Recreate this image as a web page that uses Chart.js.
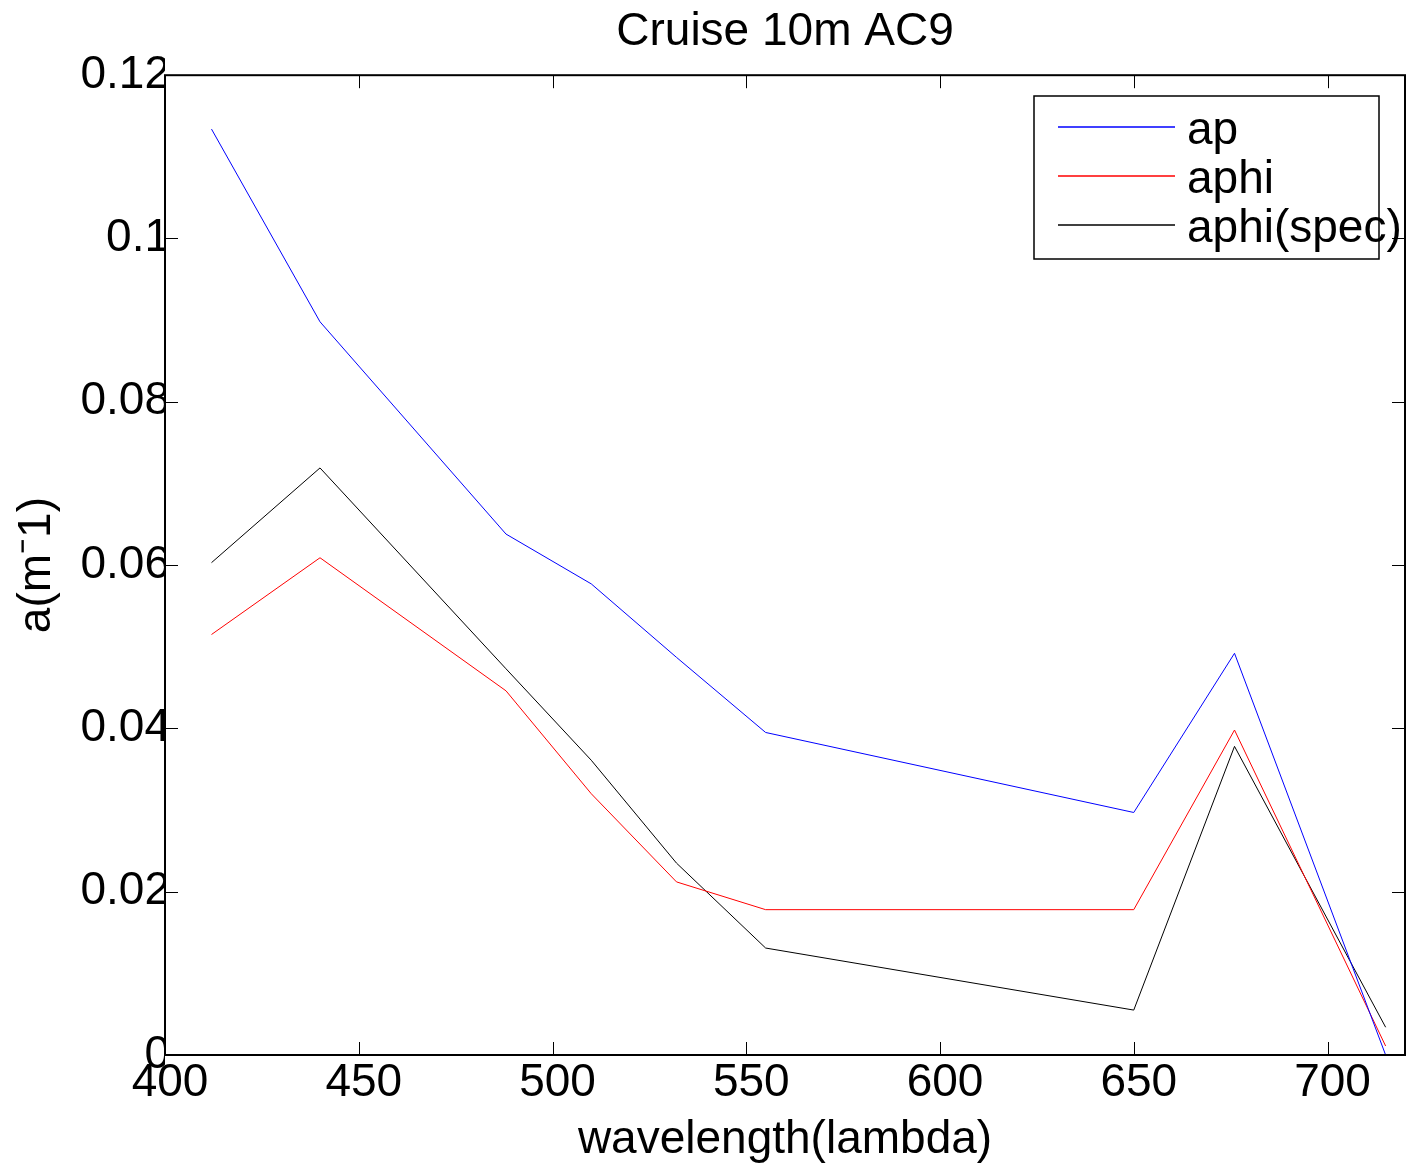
<!DOCTYPE html>
<html>
<head>
<meta charset="utf-8">
<script src="https://cdn.jsdelivr.net/npm/chart.js@4/dist/chart.umd.min.js"></script>
<style>
  body { margin: 0; background: #fff; }
  #wrap { width: 1408px; height: 1168px; }
</style>
</head>
<body>
<div id="wrap"><canvas id="ac9Chart" width="1408" height="1168"></canvas></div>
<script>
// AC9 wavelengths (nm)
const wavelengths = [412, 440, 488, 510, 532, 555, 650, 676, 715];
const ap = [0.1134, 0.0898, 0.0638, 0.0577, 0.0487, 0.0395, 0.0297, 0.0492, 0.0];
const aphi = [0.0515, 0.0609, 0.0446, 0.0320, 0.0212, 0.0178, 0.0178, 0.0398, 0.0011];
const aphiSpec = [0.0603, 0.0719, 0.0473, 0.0361, 0.0235, 0.0131, 0.0055, 0.0378, 0.0034];
const seriesNames = ["ap", "aphi", "aphi(spec)"];
const xTicks = [400, 450, 500, 550, 600, 650, 700];
const yTicks = [0, 0.02, 0.04, 0.06, 0.08, 0.1, 0.12];

const FONT = "'Liberation Sans', Arial, Helvetica, sans-serif";
const colors = ["#0000ff", "#ff0000", "#000000"];
const allSeries = [ap, aphi, aphiSpec];

function toPoints(vals) {
    return wavelengths.map((w, i) => ({ x: w, y: vals[i] }));
}

// box round the axes + inward tick marks, matlab style
const boxPlugin = {
    id: "matlabBox",
    afterDatasetsDraw(chart) {
        const ctx = chart.ctx;
        const a = chart.chartArea;
        const xs = chart.scales.x, ys = chart.scales.y;
        const tl = 13;
        ctx.save();
        ctx.strokeStyle = "#000";
        ctx.lineWidth = 1;
        ctx.beginPath();
        xTicks.forEach(v => {
            const px = Math.round(xs.getPixelForValue(v)) + 0.5;
            ctx.moveTo(px, a.bottom); ctx.lineTo(px, a.bottom - tl);
            ctx.moveTo(px, a.top); ctx.lineTo(px, a.top + tl);
        });
        yTicks.forEach(v => {
            const py = Math.round(ys.getPixelForValue(v)) + 0.5;
            ctx.moveTo(a.left, py); ctx.lineTo(a.left + tl, py);
            ctx.moveTo(a.right, py); ctx.lineTo(a.right - tl, py);
        });
        ctx.stroke();
        ctx.lineWidth = 2;
        ctx.strokeRect(a.left, a.top, a.right - a.left, a.bottom - a.top);
        ctx.restore();
    }
};

const legendPlugin = {
    id: "matlabLegend",
    afterDraw(chart) {
        const ctx = chart.ctx;
        const bx = 1034, by = 96, bw = 345, bh = 163;
        ctx.save();
        ctx.fillStyle = "#fff";
        ctx.fillRect(bx, by, bw, bh);
        ctx.strokeStyle = "#000";
        ctx.lineWidth = 1.5;
        ctx.strokeRect(bx, by, bw, bh);
        ctx.font = "46px " + FONT;
        ctx.textBaseline = "alphabetic";
        seriesNames.forEach((name, i) => {
            const y = 127 + i * 49;
            ctx.beginPath();
            ctx.strokeStyle = colors[i];
            ctx.lineWidth = 1.5;
            ctx.moveTo(1058, y);
            ctx.lineTo(1175, y);
            ctx.stroke();
            ctx.fillStyle = "#000";
            ctx.fillText(name, 1187, y + 17);
        });
        ctx.restore();
    }
};

new Chart(document.getElementById("ac9Chart"), {
    type: "line",
    data: {
        datasets: allSeries.map((vals, i) => ({
            label: seriesNames[i],
            data: toPoints(vals),
            borderColor: colors[i],
            borderWidth: 1,
            pointRadius: 0,
            tension: 0,
            fill: false
        }))
    },
    options: {
        responsive: false,
        animation: false,
        layout: { padding: { left: 0, right: 3, top: 0, bottom: 0 } },
        plugins: {
            legend: { display: false },
            tooltip: { enabled: false },
            title: {
                display: true,
                text: "Cruise 10m AC9",
                color: "#000",
                fullSize: false,
                font: { family: FONT, size: 46, weight: "normal" },
                padding: { top: 5, bottom: 15 }
            }
        },
        scales: {
            x: {
                type: "linear",
                min: 400,
                max: 720,
                afterFit(scale) { scale.height = 113; },
                grid: { display: false, drawTicks: false },
                border: { display: false },
                ticks: {
                    stepSize: 50,
                    includeBounds: false,
                    color: "#000",
                    padding: 1,
                    labelOffset: 5,
                    maxRotation: 0,
                    font: { family: FONT, size: 46 }
                },
                title: {
                    display: true,
                    text: "wavelength(lambda)",
                    color: "#000",
                    font: { family: FONT, size: 46 },
                    padding: { top: 0, bottom: 0 }
                }
            },
            y: {
                min: 0,
                max: 0.12,
                afterFit(scale) { scale.width = 165; },
                grid: { display: false, drawTicks: false },
                border: { display: false },
                ticks: {
                    stepSize: 0.02,
                    color: "#000",
                    padding: -5,
                    font: { family: FONT, size: 46 },
                    callback: v => String(+v.toFixed(2))
                },
                title: {
                    display: true,
                    text: "a(m\u207B1)",
                    color: "#000",
                    font: { family: FONT, size: 46 },
                    padding: { top: 10, bottom: 0 }
                }
            }
        }
    },
    plugins: [boxPlugin, legendPlugin]
});
</script>
</body>
</html>
